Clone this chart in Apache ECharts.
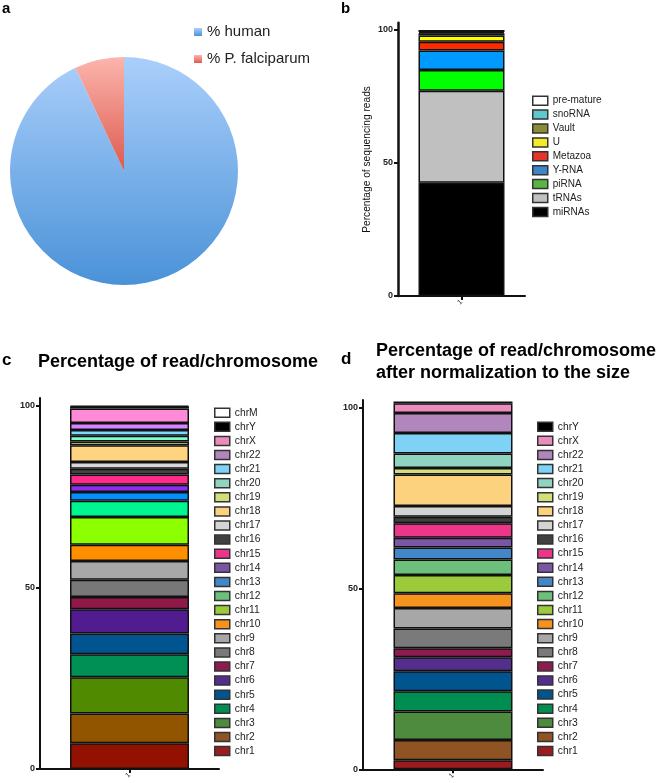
<!DOCTYPE html>
<html><head><meta charset="utf-8">
<script src="https://cdn.jsdelivr.net/npm/echarts@6/dist/echarts.min.js"></script>
<style>html,body{margin:0;padding:0;background:#fff}#c{width:660px;height:783px}</style>
</head><body><div id="c"></div>
<script>
// ---------- data ----------
const pieNames = ['% human', '% P. falciparum'];
const pieValues = [93, 7];

const rnaNames = ['miRNAs', 'tRNAs', 'piRNA', 'Y-RNA', 'Metazoa', 'U', 'Vault', 'snoRNA', 'pre-mature'];
const rnaValues = [42.6, 34.6, 7.8, 7.3, 3.3, 2.3, 0.9, 0.4, 0.8];

const chrNamesC = ['chr1','chr2','chr3','chr4','chr5','chr6','chr7','chr8','chr9','chr10','chr11','chr12','chr13','chr14','chr15','chr16','chr17','chr18','chr19','chr20','chr21','chr22','chrX','chrY','chrM'];
const chrValuesC = [7.1, 8.2, 10.0, 6.3, 5.7, 6.7, 3.4, 4.7, 5.2, 4.5, 7.6, 4.5, 2.4, 2.0, 2.8, 1.6, 1.9, 4.6, 1.0, 1.6, 1.6, 1.9, 4.0, 0.5, 0.2];

const chrNamesD = ['chr1','chr2','chr3','chr4','chr5','chr6','chr7','chr8','chr9','chr10','chr11','chr12','chr13','chr14','chr15','chr16','chr17','chr18','chr19','chr20','chr21','chr22','chrX','chrY'];
const chrValuesD = [2.5, 5.6, 7.9, 5.6, 5.5, 3.9, 2.5, 5.4, 5.7, 4.1, 5.0, 4.3, 3.3, 2.7, 4.0, 1.8, 3.0, 8.7, 1.8, 4.0, 5.7, 5.5, 2.7, 0.5];

const sampleLabels = ['1'];
const yTicks = [0, 50, 100];

// ---------- styles ----------
const rnaBarColors = ['#000000','#c0c0c0','#00ff00','#0099ff','#ff2a00','#ffff00','#8b8b35','#5fc8cf','#ffffff'];
const rnaLegendColors = ['#000000','#c0c0c0','#5db445','#3f86c8','#e8352a','#f5ea2a','#8b8b35','#5fc8cf','#ffffff'];
const chrBarColorsC = ['#921100','#915500','#4f8a00','#008f55','#00548f','#521c91','#8f1a4a','#787878','#a8a8a8','#ff8f00','#8cff00','#00f591','#0091ff','#8c2cf0','#ff2a8a','#444444','#d8d8d8','#ffd480','#cfe87a','#7affcc','#7dd8ff','#d585ff','#ff8ad8','#000000','#ffffff'];
const chrLegendColors = ['#9b1b1e','#8f5324','#4f8b3f','#008d52','#00558f','#542e8c','#8e1b4f','#7a7a7a','#a7a7a7','#f6921e','#9bcb3b','#6cc07c','#4387c8','#7a57a5','#ec368a','#404040','#d4d4d4','#fdd27f','#d3e07a','#8fd3c0','#7dd2f5','#b286bc','#ea8dbd','#000000','#ffffff'];
const pieColors = [
  {type:'linear',x:0,y:0,x2:0,y2:1,colorStops:[{offset:0,color:'#abcffb'},{offset:1,color:'#4a92d8'}]},
  {type:'linear',x:0,y:0,x2:0,y2:1,colorStops:[{offset:0,color:'#fcb5ad'},{offset:1,color:'#dd5a4f'}]}
];
const FONT = 'Liberation Sans, Arial, Helvetica, sans-serif';

const chart = echarts.init(document.getElementById('c'), null, {renderer:'canvas'});

function yAxisFor(grid, max, extra) {
  return Object.assign({
    gridIndex: grid, type: 'value', min: 0, max: max,
    splitLine: {show: false},
    axisLine: {show: true, lineStyle: {color: '#111', width: 2}},
    axisTick: {show: true, length: 4, lineStyle: {color: '#111', width: 2}, customValues: yTicks},
    axisLabel: {fontSize: 9, fontWeight: 'bold', color: '#222', fontFamily: FONT, margin: 5, customValues: yTicks}
  }, extra || {});
}
function xAxisFor(grid, showTick) {
  return {
    gridIndex: grid, type: 'category', data: sampleLabels,
    axisLine: {show: true, lineStyle: {color: '#111', width: 2}},
    axisTick: {show: showTick, alignWithLabel: true, length: 4, lineStyle: {color: '#111', width: 2}},
    axisLabel: {rotate: 45, fontSize: 7, color: '#222', fontFamily: FONT, margin: 5}
  };
}

const series = [];
series.push({
  type: 'pie', center: [124, 171], radius: 114, startAngle: 90,
  label: {show: false}, labelLine: {show: false}, silent: true,
  emphasis: {disabled: true},
  data: pieNames.map((n, i) => ({name: n, value: pieValues[i], itemStyle: {color: pieColors[i]}}))
});
rnaNames.forEach((n, i) => series.push({
  type: 'bar', name: n, xAxisIndex: 0, yAxisIndex: 0, stack: 'b', barWidth: 86,
  itemStyle: {color: rnaBarColors[i], borderColor: '#111', borderWidth: 1.5},
  data: [rnaValues[i]]
}));
chrNamesC.forEach((n, i) => series.push({
  type: 'bar', name: n, xAxisIndex: 1, yAxisIndex: 1, stack: 'c', barWidth: 119,
  itemStyle: {color: chrBarColorsC[i], borderColor: '#111', borderWidth: 1.5},
  data: [chrValuesC[i]]
}));
chrNamesD.forEach((n, i) => series.push({
  type: 'bar', name: n, xAxisIndex: 2, yAxisIndex: 2, stack: 'd', barWidth: 119,
  itemStyle: {color: chrLegendColors[i], borderColor: '#111', borderWidth: 1.5},
  data: [chrValuesD[i]]
}));

function legendData(names, colors) {
  return names.map((n, i) => ({name: n, itemStyle: {color: colors[i], borderColor: '#333', borderWidth: 1.5}})).reverse();
}
const legTxtB = {fontSize: 10, color: '#222', fontFamily: FONT, lineHeight: 11};
const legTxt = {fontSize: 10.3, color: '#222', fontFamily: FONT, lineHeight: 11};

chart.setOption({
  animation: false,
  backgroundColor: '#fff',
  grid: [
    {left: 398, top: 22.8, width: 127, height: 273.2},
    {left: 40, top: 398, width: 179, height: 371},
    {left: 363, top: 400, width: 180, height: 369.3}
  ],
  xAxis: [xAxisFor(0, true), xAxisFor(1, true), xAxisFor(2, true)],
  yAxis: [
    yAxisFor(0, 102.7, {name: 'Percentage of sequencing reads', nameLocation: 'middle', nameGap: 26, nameRotate: 90,
      nameTextStyle: {fontSize: 10.2, color: '#111', fontFamily: FONT}, axisLine: {show: true, lineStyle: {color: '#111', width: 2.5}}}),
    yAxisFor(1, 102.2),
    yAxisFor(2, 102.1)
  ],
  legend: [
    {selectedMode: false, orient: 'vertical', padding: 0, left: 194, top: 24, icon: 'rect', itemWidth: 8, itemHeight: 8, itemGap: 11,
      textStyle: {fontSize: 15, color: '#222', fontFamily: FONT, lineHeight: 16},
      data: pieNames.map(n => ({name: n}))},
    {selectedMode: false, orient: 'vertical', padding: 0, left: 532, top: 95.2, icon: 'rect', itemWidth: 15, itemHeight: 9, itemGap: 2.9,
      textStyle: legTxtB, data: legendData(rnaNames, rnaLegendColors)},
    {selectedMode: false, orient: 'vertical', padding: 0, left: 214, top: 407.2, icon: 'rect', itemWidth: 15, itemHeight: 9, itemGap: 3.1,
      textStyle: legTxt, data: legendData(chrNamesC, chrLegendColors)},
    {selectedMode: false, orient: 'vertical', padding: 0, left: 537, top: 421.2, icon: 'rect', itemWidth: 15, itemHeight: 9, itemGap: 3.1,
      textStyle: legTxt, data: legendData(chrNamesD, chrLegendColors)}
  ],
  graphic: [
    {type: 'text', left: 2, top: 1, style: {text: 'a', font: 'bold 15px ' + FONT, fill: '#000'}},
    {type: 'text', left: 341, top: 1, style: {text: 'b', font: 'bold 15px ' + FONT, fill: '#000'}},
    {type: 'text', left: 2, top: 352, style: {text: 'c', font: 'bold 17px ' + FONT, fill: '#000'}},
    {type: 'text', left: 341, top: 351, style: {text: 'd', font: 'bold 17px ' + FONT, fill: '#000'}},
    {type: 'text', left: 38, top: 353, style: {text: 'Percentage of read/chromosome', font: 'bold 18px ' + FONT, fill: '#000'}},
    {type: 'text', left: 376, top: 340, style: {text: 'Percentage of read/chromosome\nafter normalization to the size', font: 'bold 18px ' + FONT, lineHeight: 22, fill: '#000'}}
  ],
  series: series
});
</script></body></html>
